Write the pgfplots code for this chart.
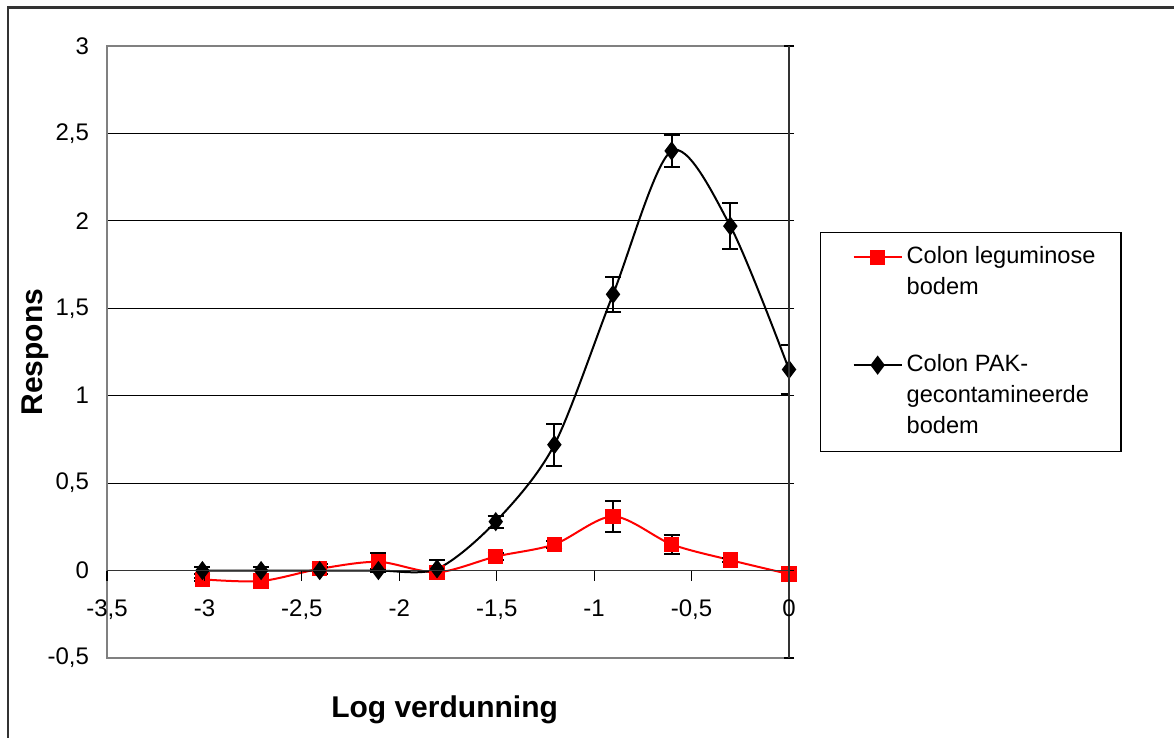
\documentclass[border=0pt]{standalone}
\usepackage{fontspec}
\setmainfont{Liberation Sans}
\usepackage{pgfplots}
\usepackage{pgfplotstable}
\pgfplotsset{compat=1.18}

\pgfplotstableread{
x y e
-3.0103 -0.05 0.01
-2.7093 -0.06 0.01
-2.4082 0.01 0.03
-2.1072 0.05 0.05
-1.8062 -0.01 0.02
-1.5051 0.08 0.02
-1.2041 0.15 0.02
-0.9031 0.31 0.09
-0.6021 0.15 0.055
-0.3010 0.06 0.01
0 -0.02 0.01
}\redtab

\pgfplotstableread{
x y e
-3.0103 0.00 0.02
-2.7093 0.00 0.02
-2.4082 0.00 0.02
-2.1072 0.00 0.01
-1.8062 0.01 0.05
-1.5051 0.28 0.035
-1.2041 0.72 0.12
-0.9031 1.58 0.10
-0.6021 2.40 0.09
-0.3010 1.97 0.13
0 1.15 0.14
}\blacktab

\newcommand\lstrut{\kern2bp\rule[-4.5bp]{0pt}{15.5bp}}
\newcommand\rend{\kern-4.5bp}

\begin{document}
\begin{tikzpicture}
\useasboundingbox (0,0) rectangle (587bp,-369bp);
\begin{scope}
\clip (0,0) rectangle (587bp,-369bp);
\draw[line width=1.1bp, color=black!80] (4bp,-3.7bp) rectangle (600bp,-380bp);
\end{scope}
\begin{axis}[
  at={(53.5bp,-329bp)}, anchor=south west, scale only axis,
  width=341bp, height=306bp,
  xmin=-3.5, xmax=0, ymin=-0.5, ymax=3,
  axis line style={draw=gray, line width=0.8bp},
  xtick=\empty,
  ytick={-0.5,0,0.5,1,1.5,2,2.5,3},
  ymajorgrids, grid style={black, line width=0.5bp},
  major tick length=0pt,
  /pgf/number format/.cd, use comma, assume math mode=true,
  /pgfplots/.cd,
  yticklabel style={font=\fontsize{12bp}{14bp}\selectfont, xshift=-5.5bp},
  every axis y label/.style={at={(axis description cs:-0.1056,0.5)}, rotate=90, anchor=center},
  every axis x label/.style={at={(axis description cs:0.495,-0.085)}, anchor=center},
  xlabel={\fontsize{15bp}{18bp}\selectfont\bfseries Log verdunning},
  ylabel={\fontsize{15bp}{18bp}\selectfont\bfseries Respons},
  legend style={at={(axis description cs:1.0455,0.696)}, anchor=north west,
    draw=black, line width=0.6bp, inner xsep=16bp, inner ysep=4.5bp,
    font=\fontsize{11.8bp}{15.5bp}\selectfont,
    nodes={inner sep=0pt, text depth=4.5bp}, column sep=0pt, row sep=0pt,
    cells={anchor=west}},
  legend image code/.code={\draw[mark repeat=2,mark phase=2] plot coordinates {(0bp,0bp)(12bp,0bp)(24bp,0bp)};},
]
\addplot[red, line width=1bp, smooth, tension=0.5, mark=square*, mark size=3.3bp, mark options={solid, fill=red, draw=red},
  error bars/.cd, y dir=both, y explicit,
  error bar style={black, line width=1bp},
  error mark options={rotate=90, mark size=4bp, line width=1bp, black}]
  table[x=x, y=y, y error=e] {\redtab};
\addlegendentry{\lstrut Colon leguminose\rend}
\addlegendimage{empty legend}
\addlegendentry{\lstrut bodem}
\addlegendimage{empty legend}
\addlegendentry{\rule[-4.5bp]{0pt}{23bp}}
\addplot[black, line width=1bp, smooth, tension=0.5, mark=diamond*, mark size=4bp, mark options={solid, fill=black},
  error bars/.cd, y dir=both, y explicit,
  error bar style={black, line width=1bp},
  error mark options={rotate=90, mark size=4bp, line width=1bp, black}]
  table[x=x, y=y, y error=e] {\blacktab};
\addlegendentry{\lstrut Colon PAK-}
\addlegendimage{empty legend}
\addlegendentry{\lstrut gecontamineerde}
\addlegendimage{empty legend}
\addlegendentry{\lstrut bodem}
\end{axis}
\begin{axis}[
  at={(53.5bp,-329bp)}, anchor=south west, scale only axis,
  width=341bp, height=306bp,
  xmin=-3.5, xmax=0, ymin=-0.5, ymax=3,
  axis x line=middle, axis y line=right,
  axis line style={draw=black!80, line width=0.8bp, -},
  xtick={-3.5,-3,-2.5,-2,-1.5,-1,-0.5,0},
  ytick={-0.5,0,0.5,1,1.5,2,2.5,3},
  yticklabels={},
  hide obscured x ticks=false, hide obscured y ticks=false,
  tick align=center, major tick length=5bp,
  tick style={black, line width=0.6bp},
  xtick style={yshift=-2.5bp},
  /pgf/number format/.cd, use comma, assume math mode=true,
  /pgfplots/.cd,
  xticklabel style={font=\fontsize{12bp}{14bp}\selectfont, yshift=-8.5bp},
]
\end{axis}
\end{tikzpicture}
\end{document}
